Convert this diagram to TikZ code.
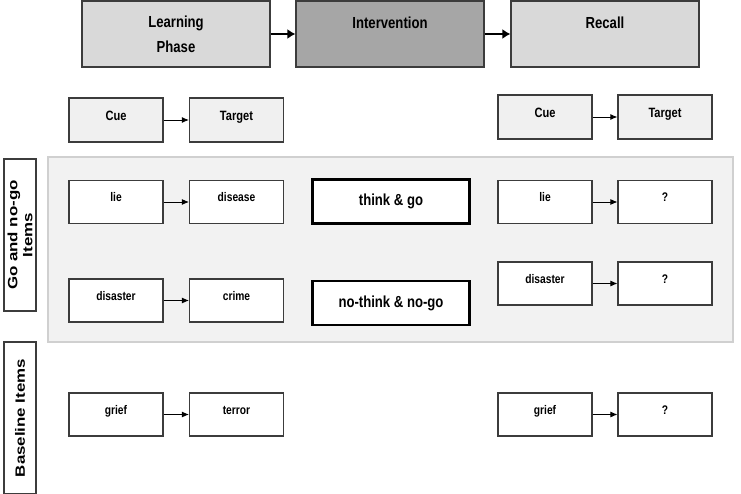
\documentclass[tikz,border=0pt]{standalone}
\usepackage{fontspec}
\setmainfont{Liberation Sans}[FakeStretch=0.82]
\newfontfamily\widefont{Liberation Sans}[FakeStretch=1.25]
\usetikzlibrary{arrows.meta}
\definecolor{boxline}{HTML}{3C3C3C}
\definecolor{phaselight}{HTML}{D9D9D9}
\definecolor{phasedark}{HTML}{A6A6A6}
\definecolor{cuefill}{HTML}{F0F0F0}
\definecolor{panelfill}{HTML}{F2F2F2}
\definecolor{panelline}{HTML}{D0D0D0}
\tikzset{
  phasebox/.style={draw=boxline, line width=1.2pt, minimum width=188pt, minimum height=66pt,
    inner sep=0pt, font=\bfseries\fontsize{16}{25}\selectfont, align=center},
  headbox/.style={draw=boxline, line width=1.2pt, fill=cuefill, minimum width=94pt, minimum height=44pt,
    inner sep=0pt, font=\bfseries\fontsize{13.5}{16}\selectfont, text height=10pt, text depth=8pt},
  wordbox/.style={draw=boxline, line width=1.1pt, fill=white, minimum width=94pt, minimum height=43pt,
    inner sep=0pt, font=\bfseries\fontsize{12.5}{15}\selectfont, text height=9pt, text depth=9pt},
  condbox/.style={draw=black, line width=2.2pt, fill=white, minimum width=157pt, minimum height=44pt,
    inner sep=0pt, font=\bfseries\fontsize{16}{19}\selectfont},
  sidebox/.style={draw=boxline, line width=1.2pt, fill=white, minimum width=152pt, minimum height=32pt,
    inner sep=0pt, font=\widefont\bfseries\fontsize{13.5}{15}\selectfont, align=center, rotate=90},
  thinarrow/.style={-{Latex[length=7pt,width=6pt]}, line width=0.9pt, black},
  thickarrow/.style={-{Latex[length=8pt,width=10pt]}, line width=2.8pt, black},
}
\begin{document}
\begin{tikzpicture}[x=1pt,y=-1pt]
\useasboundingbox (0,0) rectangle (741,494);
% panel
\node[draw=panelline, line width=2pt, fill=panelfill, minimum width=685pt, minimum height=185pt, inner sep=0pt] (panel) at (390.5,249.5) {};
% phases
\node[phasebox, fill=phaselight, text height=38pt, text depth=0pt] (lp) at (176,34) {Learning\\Phase};
\node[phasebox, fill=phasedark, text height=12pt, text depth=22pt] (iv) at (390,34) {Intervention};
\node[phasebox, fill=phaselight, text height=12pt, text depth=22pt] (rc) at (605,34) {Recall};
\draw[thickarrow] (lp) -- (iv);
\draw[thickarrow] (iv) -- (rc);
% headers
\node[headbox] (cueL) at (116,120) {Cue};
\node[headbox] (tgtL) at (236.5,120) {Target};
\node[headbox] (cueR) at (545,117) {Cue};
\node[headbox] (tgtR) at (665,117) {Target};
\draw[thinarrow] (cueL) -- (tgtL);
\draw[thinarrow] (cueR) -- (tgtR);
% row 1
\node[wordbox] (lieL) at (116,202) {lie};
\node[wordbox] (disL) at (236.5,202) {disease};
\node[condbox] (tg) at (391,201.5) {think \& go};
\node[wordbox] (lieR) at (545,202) {lie};
\node[wordbox] (q1) at (665,202) {?};
\draw[thinarrow] (lieL) -- (disL);
\draw[thinarrow] (lieR) -- (q1);
% row 2
\node[wordbox] (disaL) at (116,300.5) {disaster};
\node[wordbox] (crime) at (236.5,300.5) {crime};
\node[condbox] (ntng) at (391,303) {no-think \& no-go};
\node[wordbox] (disaR) at (545,283.5) {disaster};
\node[wordbox] (q2) at (665,283.5) {?};
\draw[thinarrow] (disaL) -- (crime);
\draw[thinarrow] (disaR) -- (q2);
% baseline row
\node[wordbox] (griefL) at (116,414.5) {grief};
\node[wordbox] (terror) at (236.5,414.5) {terror};
\node[wordbox] (griefR) at (545,414.5) {grief};
\node[wordbox] (q3) at (665,414.5) {?};
\draw[thinarrow] (griefL) -- (terror);
\draw[thinarrow] (griefR) -- (q3);
% side labels
\node[sidebox] (golab) at (20,235) {Go and no-go\\Items};
\node[sidebox] (baselab) at (20,418) {Baseline Items};
\end{tikzpicture}
\end{document}
